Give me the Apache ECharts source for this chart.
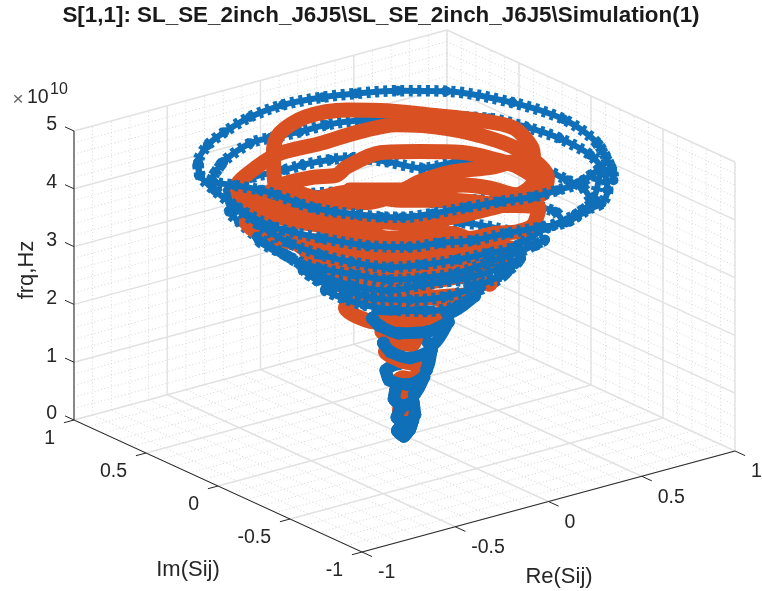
<!DOCTYPE html>
<html><head><meta charset="utf-8"><style>html,body{margin:0;padding:0;background:#fff}#c{width:762px;height:591px}</style>
<script src="https://cdn.jsdelivr.net/npm/echarts@6/dist/echarts.min.js"></script></head><body><div id="c"></div><script>
const blueRe=[.02,-.05,-.03,.03,.04,
-.01,-.05,-.04,.03,.07,.04,
0,-.06,-.04,.03,.09,.06,
.05,-.06,-.09,-.03,.06,.13,.11,
.09,-.04,-.06,-.02,.09,.16,.12,
.15,.01,-.10,-.11,-.08,.02,.14,.20,
.23,.09,-.05,-.14,-.21,-.23,-.23,-.11,.06,.21,.31,.28,
.39,.20,0,-.14,-.25,-.29,-.31,-.28,-.13,.08,.28,.41,.40,
.37,.23,.04,-.16,-.31,-.40,-.43,-.40,-.38,-.13,.09,.26,.43,.53,.51,
.46,.29,.11,-.08,-.23,-.36,-.44,-.51,-.53,-.49,-.44,-.40,-.24,-.04,.15,.30,.37,.53,.65,.70,.66,
.71,.56,.37,.11,-.01,-.17,-.32,-.45,-.54,-.59,-.61,-.58,-.52,-.43,-.26,-.09,.01,.14,.23,.32,.39,.61,.72,.79,.79,.79,.73,
.72,.54,.41,.28,.13,-.02,-.18,-.31,-.38,-.44,-.50,-.54,-.56,-.57,-.59,-.64,-.68,-.51,-.28,-.17,-.03,.11,.27,.39,.57,.71,.77,.80,.78,.70,.58,
.37,.29,.11,-.01,-.17,-.34,-.47,-.60,-.73,-.83,-.91,-.89,-.84,-.78,-.69,-.53,-.38,-.18,.02,.21,.35,.51,.67,.81,.86,.80,.65,.58];
const blueIm=[-.01,-.06,.01,.05,.01,
-.07,-.07,0,.07,.05,-.02,
-.06,-.07,.02,.10,.09,.01,
-.07,-.10,-.01,.09,.12,.10,-.01,
-.07,-.09,.02,.12,.15,.09,-.03,
-.11,-.15,-.09,.03,.12,.13,.07,-.03,
-.19,-.24,-.21,-.12,.01,.13,.25,.27,.21,.10,-.06,-.14,
-.21,-.26,-.28,-.22,-.11,.04,.20,.34,.34,.27,.12,-.07,-.19,
-.33,-.37,-.38,-.33,-.30,-.15,.07,.31,.52,.56,.49,.36,.17,-.05,-.24,
-.38,-.43,-.45,-.47,-.43,-.36,-.22,-.07,.11,.39,.58,.70,.68,.68,.58,.37,.25,.17,.04,-.14,-.26,
-.39,-.46,-.51,-.61,-.60,-.58,-.54,-.48,-.33,-.18,.01,.26,.52,.67,.73,.72,.72,.70,.66,.53,.38,.34,.20,.03,-.11,-.21,-.36,
-.43,-.52,-.53,-.53,-.49,-.46,-.43,-.39,-.33,-.25,-.16,-.07,.02,.15,.24,.35,.46,.60,.71,.71,.69,.69,.64,.56,.46,.33,.15,-.04,-.28,-.48,-.66,
-.89,-.91,-.98,-.96,-.93,-.91,-.85,-.81,-.69,-.50,-.26,0,.23,.41,.54,.68,.76,.84,.87,.84,.79,.71,.58,.30,.01,-.30,-.60,-.70];
const blueFrq=[.10,.10,.10,.10,.10,
.35,.35,.35,.35,.35,.35,
.65,.65,.65,.65,.65,.65,
1.05,1.05,1.05,1.05,1.05,1.05,1.05,
1.48,1.48,1.48,1.48,1.48,1.48,1.48,
1.96,1.96,1.96,1.96,1.96,1.96,1.96,1.96,
2.43,2.43,2.43,2.43,2.43,2.43,2.43,2.43,2.43,2.43,2.43,2.43,
2.72,2.72,2.72,2.72,2.72,2.72,2.72,2.72,2.72,2.72,2.72,2.72,2.72,
3.12,3.12,3.12,3.12,3.12,3.12,3.12,3.12,3.12,3.12,3.12,3.12,3.12,3.12,3.12,
3.42,3.42,3.42,3.42,3.42,3.42,3.42,3.42,3.42,3.42,3.42,3.42,3.42,3.42,3.42,3.42,3.42,3.42,3.42,3.42,3.42,
3.85,3.85,3.85,3.85,3.85,3.85,3.85,3.85,3.85,3.85,3.85,3.85,3.85,3.85,3.85,3.85,3.85,3.85,3.85,3.85,3.85,3.85,3.85,3.85,3.85,3.85,3.85,
4.49,4.49,4.49,4.49,4.49,4.49,4.49,4.49,4.49,4.49,4.49,4.49,4.49,4.49,4.49,4.49,4.49,4.49,4.49,4.49,4.49,4.49,4.49,4.49,4.49,4.49,4.49,4.49,4.49,4.49,4.49,
4.71,4.71,4.71,4.71,4.71,4.71,4.71,4.71,4.71,4.71,4.71,4.71,4.71,4.71,4.71,4.71,4.71,4.71,4.71,4.71,4.71,4.71,4.71,4.71,4.71,4.71,4.71,4.71];
const orangeRe=[.01,-.05,-.02,.04,.05,
-.02,-.02,.05,.06,
-.07,-.05,-.01,.06,.08,
-.01,-.03,-.01,.07,.13,
.04,-.05,-.06,.03,.10,
.13,0,-.13,-.19,-.17,-.06,.08,.20,.22,
.21,.07,-.07,-.15,-.16,-.14,.01,.18,.35,.39,.35,
.28,.21,.01,-.10,-.20,-.20,-.15,.02,.21,.38,.47,
.35,.19,.06,-.12,-.23,-.25,-.22,
.30,.21,.09,-.03,-.14,-.23,-.33,-.40,-.44,-.40,-.22,-.08,.17,.28,.45,.58,.69,
.21,.11,.03,-.10,-.12,-.23,-.37,-.41,-.46,-.55,-.60,-.54,
-.67,-.45,-.27,-.07,.14,.33,.47,.55,.55,.45,.32,.26,.06,-.19,-.39,-.54,-.64,-.73,-.76,-.70,
-.74,-.60,-.44,-.34,-.25,-.03,.11,.25,.31,.33,.29,.12,.08,.01,-.13,-.27,-.44,-.57,-.61,
-.68,-.44,-.30,-.09,.10,.23,.34,.47,.53,.45,.36,.33,.17,-.01,-.18,-.31,-.48];
const orangeIm=[-.01,-.05,.01,.06,.02,
-.04,.02,.08,.05,
-.12,-.04,.05,.09,.05,
-.11,-.01,.13,.18,.11,
-.04,-.04,.09,.11,.03,
-.11,-.11,-.07,.02,.19,.26,.20,.08,-.03,
-.19,-.12,-.05,.04,.20,.38,.42,.33,.20,.02,-.14,
-.17,-.16,-.12,-.03,.12,.33,.50,.47,.37,.24,.02,
-.24,-.22,-.17,-.06,.08,.30,.50,
-.35,-.32,-.25,-.16,-.08,.03,.13,.28,.46,.58,.65,.62,.60,.39,.26,.09,-.04,
-.62,-.64,-.60,-.58,-.49,-.43,-.37,-.27,-.15,.01,.19,.37,
.30,.44,.51,.50,.51,.48,.32,.08,-.12,-.41,-.55,-.56,-.56,-.54,-.45,-.25,-.10,-.01,.13,.25,
.03,.08,.07,.03,.08,.13,.04,-.08,-.24,-.37,-.53,-.62,-.49,-.39,-.35,-.32,-.31,-.17,.07,
.02,.34,.48,.57,.53,.42,.27,.09,-.07,-.30,-.43,-.40,-.39,-.33,-.34,-.37,-.24];
const orangeFrq=[.13,.13,.13,.13,.13,
.44,.44,.44,.44,
.87,.87,.87,.87,.87,
1.31,1.31,1.31,1.31,1.31,
1.74,1.74,1.74,1.74,1.74,
2.14,2.14,2.14,2.14,2.14,2.14,2.14,2.14,2.14,
2.47,2.47,2.47,2.47,2.47,2.47,2.47,2.47,2.47,2.47,2.47,
2.78,2.78,2.78,2.78,2.78,2.78,2.78,2.78,2.78,2.78,2.78,
3.00,3.00,3.00,3.00,3.00,3.00,3.00,
3.38,3.38,3.38,3.38,3.38,3.38,3.38,3.38,3.38,3.38,3.38,3.38,3.38,3.38,3.38,3.38,3.38,
4.16,4.16,4.16,4.16,4.16,4.16,4.16,4.16,4.16,4.16,4.16,4.16,
4.54,4.54,4.54,4.54,4.54,4.54,4.54,4.54,4.54,4.54,4.54,4.54,4.54,4.54,4.54,4.54,4.54,4.54,4.54,4.54,
4.77,4.77,4.77,4.77,4.77,4.77,4.77,4.77,4.77,4.77,4.77,4.77,4.77,4.77,4.77,4.77,4.77,4.77,4.77,
4.94,4.94,4.94,4.94,4.94,4.94,4.94,4.94,4.94,4.94,4.94,4.94,4.94,4.94,4.94,4.94,4.94];
const reTicks=[-1,-0.5,0,0.5,1],imTicks=[-1,-0.5,0,0.5,1],frqTicks=[0,1,2,3,4,5];
const stemTop=2;
const reMinor=[],imMinor=[],frqMinor=[];
for(let i=-10;i<=10;i++){reMinor.push(i/10);imMinor.push(i/10);}
for(let i=0;i<=25;i++)frqMinor.push(i/5);
const px=(r,m)=>362+(r+1)*186.5-(m+1)*144;
const py=(r,m,z)=>552-(r+1)*50.5-(m+1)*66-z*57.8;
const P=(r,m,z)=>[px(r,m),py(r,m,z)];
function segs(list){const out=[];list.forEach(s=>{out.push(P(...s[0]),P(...s[1]),[NaN,NaN]);});return out;}
function gridSegs(R,M,Z){const l=[];
 R.forEach(r=>{l.push([[r,-1,0],[r,1,0]]);l.push([[r,1,0],[r,1,5]]);});
 M.forEach(m=>{l.push([[-1,m,0],[1,m,0]]);l.push([[1,m,0],[1,m,5]]);});
 Z.forEach(z=>{l.push([[-1,1,z],[1,1,z]]);l.push([[1,1,z],[1,-1,z]]);});
 return segs(l);}
const NA=[NaN,NaN];
function pick(re,im,frq,test){const k=re.map((r,i)=>test(r,im[i],frq[i]));return re.map((r,i)=>(k[i]||k[i-1]||k[i+1])?P(r,im[i],frq[i]):NA);}
const isFront=(r,m)=>50.5*r+66*m<0;
const bBack=pick(blueRe,blueIm,blueFrq,(r,m,z)=>!isFront(r,m)&&z>=stemTop);
const bFront=pick(blueRe,blueIm,blueFrq,(r,m,z)=>isFront(r,m)&&z>=stemTop);
const bStemBack=pick(blueRe,blueIm,blueFrq,(r,m,z)=>!isFront(r,m)&&z<stemTop);
const bStemFront=pick(blueRe,blueIm,blueFrq,(r,m,z)=>isFront(r,m)&&z<stemTop);
const oTop=pick(orangeRe,orangeIm,orangeFrq,(r,m,z)=>z>=stemTop);
const oStem=pick(orangeRe,orangeIm,orangeFrq,(r,m,z)=>z<stemTop);
const line=(data,o)=>Object.assign({type:'line',data,symbol:'none',silent:true,animation:false,connectNulls:false},o);
const BL='#0f6fb8',OR='#d95123',INK='#262626';
const axisSegs=[[[-1,1,0],[-1,1,5]],[[-1,1,0],[-1,-1,0]],[[-1,-1,0],[1,-1,0]]];
reTicks.forEach(r=>axisSegs.push([[r,-1,0],[r,-1.07,0]]));
imTicks.forEach(m=>axisSegs.push([[-1,m,0],[-1.054,m,0]]));
frqTicks.forEach(z=>axisSegs.push([[-1,1,z],[-1,1.0625,z]]));
const labels=[];
const L=(x,y,text,align,fontSize,extra)=>labels.push(Object.assign({value:[x,y],label:Object.assign({show:true,position:[0,0],formatter:text,align,verticalAlign:'middle',fontSize,color:INK,opacity:1,fontFamily:'"Liberation Sans",Arial,sans-serif'},extra||{})}));
frqTicks.forEach(z=>{const p=P(-1,1,z);L(p[0]-17,p[1]-6,String(z),'right',19.5);});
imTicks.forEach(m=>{const p=P(-1,m,0);L(p[0]-19,p[1]+19,String(m),'right',19.5);});
reTicks.forEach(r=>{const p=P(r,-1,0);L(p[0]+16,p[1]+21,String(r),'left',19.5);});
L(188,570,'Im(Sij)','center',22);L(559,577,'Re(Sij)','center',22);
L(27,270,'frq,Hz','center',22,{rotate:90});
L(18,100,'×','center',19,{color:'#666'});L(27,98,'10','left',19.5);L(50,90,'10','left',16);
const blueBase={symbol:'circle',symbolSize:10,showSymbol:true,showAllSymbol:true,itemStyle:{color:BL,opacity:1},smooth:.3,lineStyle:{color:BL,width:6}};
const blueTeeth={smooth:.3,lineStyle:{color:BL,width:11.5,type:[4,4.5]}};
const blueStem={symbol:'circle',symbolSize:13,showSymbol:true,showAllSymbol:true,itemStyle:{color:BL,opacity:1},smooth:.3,lineStyle:{color:BL,width:12}};
const chart=echarts.init(document.getElementById('c'),null,{renderer:'canvas'});
chart.setOption({animation:false,backgroundColor:'#fff',
title:{text:'S[1,1]: SL_SE_2inch_J6J5\\SL_SE_2inch_J6J5\\Simulation(1)',left:'center',top:0,textStyle:{fontFamily:'"Liberation Sans",Arial,sans-serif',fontWeight:'bold',fontSize:22.4,color:'#1a1a1a'}},
grid:{left:0,right:0,top:0,bottom:0},
xAxis:{type:'value',min:0,max:762,show:false},
yAxis:{type:'value',min:0,max:591,inverse:true,show:false},
series:[
line(gridSegs(reMinor,imMinor,frqMinor),{lineStyle:{color:'#d8d8d8',width:1,type:[1,2.5]},z:1}),
line(gridSegs(reTicks,imTicks,frqTicks),{lineStyle:{color:'#e2e2e2',width:1.4},z:2}),
line(segs(axisSegs),{lineStyle:{color:INK,width:1},z:3}),
line(bBack,Object.assign({},blueBase,{z:4})),
line(bBack,Object.assign({},blueTeeth,{z:4})),
line(bStemBack,Object.assign({},blueStem,{z:4})),
line(oTop,{smooth:.3,lineStyle:{color:OR,width:15,cap:'round',join:'round'},z:5}),
line(oStem,{smooth:.3,lineStyle:{color:OR,width:12,cap:'round',join:'round'},z:5}),
line(bFront,Object.assign({},blueBase,{z:6})),
line(bFront,Object.assign({},blueTeeth,{z:6})),
line(bStemFront,Object.assign({},blueStem,{z:6})),
{type:'scatter',data:labels,symbolSize:0,silent:true,itemStyle:{opacity:1},z:10}
]});
</script></body></html>
